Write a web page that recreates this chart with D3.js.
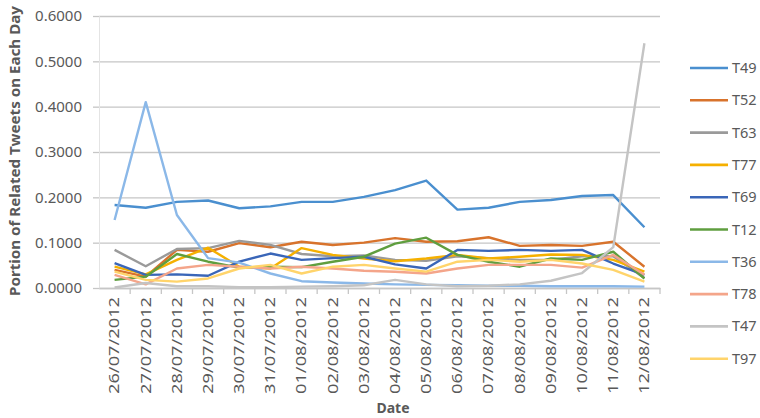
<!DOCTYPE html>
<html>
<head>
<meta charset="utf-8">
<script src="https://cdn.jsdelivr.net/npm/d3@7"></script>
<style>
  body { margin: 0; background: #fff; }
  text { font-family: "Noto Sans", "Open Sans", sans-serif; fill: #595959; }
</style>
</head>
<body>
<div id="chart"></div>
<script>
const w = 760;
const h = 418;

const dates = ["26/07/2012", "27/07/2012", "28/07/2012", "29/07/2012", "30/07/2012", "31/07/2012",
  "01/08/2012", "02/08/2012", "03/08/2012", "04/08/2012", "05/08/2012", "06/08/2012",
  "07/08/2012", "08/08/2012", "09/08/2012", "10/08/2012", "11/08/2012", "12/08/2012"];

const yTicks = [0, 0.1, 0.2, 0.3, 0.4, 0.5, 0.6];

const seriesNames = ["T49", "T52", "T63", "T77", "T69", "T12", "T36", "T78", "T47", "T97"];
const seriesColors = ["#4a8fcf", "#d8732c", "#9a9a9a", "#f5b000", "#3a66b8", "#5f9e3f", "#8bb8e8", "#f4a58a", "#c4c4c4", "#ffd46b"];

const t49 = [0.183, 0.177, 0.190, 0.193, 0.176, 0.180, 0.190, 0.190, 0.201, 0.216, 0.237, 0.173, 0.177, 0.190, 0.194, 0.203, 0.205, 0.134];
const t52 = [0.040, 0.025, 0.084, 0.080, 0.099, 0.090, 0.102, 0.095, 0.100, 0.110, 0.102, 0.103, 0.112, 0.093, 0.095, 0.093, 0.102, 0.047];
const t63 = [0.084, 0.048, 0.086, 0.088, 0.104, 0.095, 0.075, 0.070, 0.072, 0.062, 0.060, 0.070, 0.066, 0.062, 0.062, 0.070, 0.070, 0.022];
const t77 = [0.047, 0.030, 0.062, 0.089, 0.047, 0.043, 0.088, 0.073, 0.065, 0.059, 0.065, 0.073, 0.065, 0.069, 0.074, 0.073, 0.062, 0.036];
const t69 = [0.055, 0.029, 0.030, 0.027, 0.058, 0.076, 0.062, 0.066, 0.069, 0.052, 0.043, 0.084, 0.082, 0.084, 0.082, 0.084, 0.054, 0.029];
const t12 = [0.018, 0.025, 0.075, 0.058, 0.045, 0.047, 0.046, 0.058, 0.069, 0.098, 0.111, 0.073, 0.058, 0.047, 0.065, 0.062, 0.080, 0.021];
const t36 = [0.150, 0.410, 0.161, 0.066, 0.056, 0.032, 0.015, 0.012, 0.010, 0.008, 0.007, 0.006, 0.005, 0.005, 0.004, 0.004, 0.004, 0.003];
const t78 = [0.029, 0.008, 0.043, 0.051, 0.047, 0.043, 0.047, 0.043, 0.038, 0.036, 0.032, 0.043, 0.051, 0.051, 0.051, 0.045, 0.073, 0.029];
const t47 = [0.001, 0.011, 0.004, 0.004, 0.002, 0.002, 0.003, 0.004, 0.006, 0.018, 0.008, 0.004, 0.005, 0.008, 0.016, 0.033, 0.090, 0.540];
const t97 = [0.036, 0.018, 0.014, 0.021, 0.043, 0.051, 0.032, 0.047, 0.051, 0.043, 0.036, 0.058, 0.062, 0.058, 0.062, 0.054, 0.040, 0.014];

const seriesValues = [t49, t52, t63, t77, t69, t12, t36, t78, t47, t97];

const plotLeft = 99, plotRight = 660, plotTop = 16, plotBottom = 288;

const svg = d3.select("#chart")
  .append("svg")
  .attr("width", w)
  .attr("height", h);

const xScale = d3.scaleBand()
  .domain(dates)
  .range([plotLeft, plotRight]);

const yScale = d3.scaleLinear()
  .domain([0, 0.6])
  .range([plotBottom, plotTop]);

// gridlines
svg.append("g")
  .attr("transform", "translate(" + plotLeft + ",0)")
  .call(d3.axisLeft(yScale).tickValues(yTicks).tickSize(-(plotRight - plotLeft)).tickFormat(""))
  .call(g => g.select(".domain").remove())
  .call(g => g.selectAll("line").attr("stroke", "#c6c6c6").attr("stroke-width", 1.3));

// y axis labels and small outside ticks
svg.append("g")
  .attr("transform", "translate(" + plotLeft + ",0)")
  .call(d3.axisLeft(yScale).tickValues(yTicks).tickSize(6).tickPadding(11).tickFormat(d3.format(".4f")))
  .call(g => g.select(".domain").attr("stroke", "#e4e4e4"))
  .call(g => g.selectAll("line").attr("stroke", "#c6c6c6").attr("stroke-width", 1.3))
  .call(g => g.selectAll("text").style("font-size", "15px").attr("fill", "#595959"));

// x axis
const xAxis = svg.append("g")
  .attr("transform", "translate(0," + plotBottom + ")")
  .call(d3.axisBottom(xScale).tickSize(0).tickPadding(0))
  .call(g => g.select(".domain").attr("stroke", "#c6c6c6").attr("stroke-width", 1.3));

xAxis.selectAll("text")
  .attr("transform", "rotate(-90)")
  .attr("text-anchor", "end")
  .attr("x", -9)
  .attr("y", 0)
  .attr("dy", "0.35em")
  .attr("textLength", 97)
  .attr("lengthAdjust", "spacingAndGlyphs")
  .style("font-size", "14px")
  .attr("fill", "#595959");

// boundary tick marks between categories
const bounds = dates.map(d => xScale(d)).concat([xScale(dates[dates.length - 1]) + xScale.bandwidth()]);
svg.append("g")
  .selectAll("line")
  .data(bounds.slice(1))
  .enter()
  .append("line")
  .attr("x1", d => d)
  .attr("x2", d => d)
  .attr("y1", plotBottom)
  .attr("y2", plotBottom + 6)
  .attr("stroke", "#c6c6c6")
  .attr("stroke-width", 1.3);

// lines
const line = d3.line()
  .x((d, i) => xScale(dates[i]) + xScale.bandwidth() / 2)
  .y(d => yScale(d));

svg.append("g")
  .selectAll("path")
  .data(seriesValues)
  .enter()
  .append("path")
  .attr("d", d => line(d))
  .attr("fill", "none")
  .attr("stroke", (d, i) => seriesColors[i])
  .attr("stroke-width", 2.4)
  .attr("stroke-linejoin", "round");

// legend
const legend = svg.append("g")
  .selectAll("g")
  .data(seriesNames)
  .enter()
  .append("g")
  .attr("transform", (d, i) => "translate(690," + (68 + i * 32.3) + ")");

legend.append("line")
  .attr("x1", 0)
  .attr("x2", 38)
  .attr("stroke", (d, i) => seriesColors[i])
  .attr("stroke-width", 2.6);

legend.append("text")
  .attr("x", 42)
  .attr("y", 5)
  .style("font-size", "14.5px")
  .text(d => d);

// axis titles
svg.append("text")
  .attr("transform", "translate(15,151) rotate(-90)")
  .attr("text-anchor", "middle")
  .attr("dy", "0.35em")
  .attr("textLength", 290)
  .attr("lengthAdjust", "spacingAndGlyphs")
  .style("font-size", "13.5px")
  .style("font-weight", "bold")
  .attr("fill", "#404040")
  .text("Portion of Related Tweets on Each Day");

svg.append("text")
  .attr("x", 393)
  .attr("y", 413)
  .attr("text-anchor", "middle")
  .style("font-size", "14px")
  .style("font-weight", "bold")
  .attr("fill", "#404040")
  .text("Date");
</script>
</body>
</html>
